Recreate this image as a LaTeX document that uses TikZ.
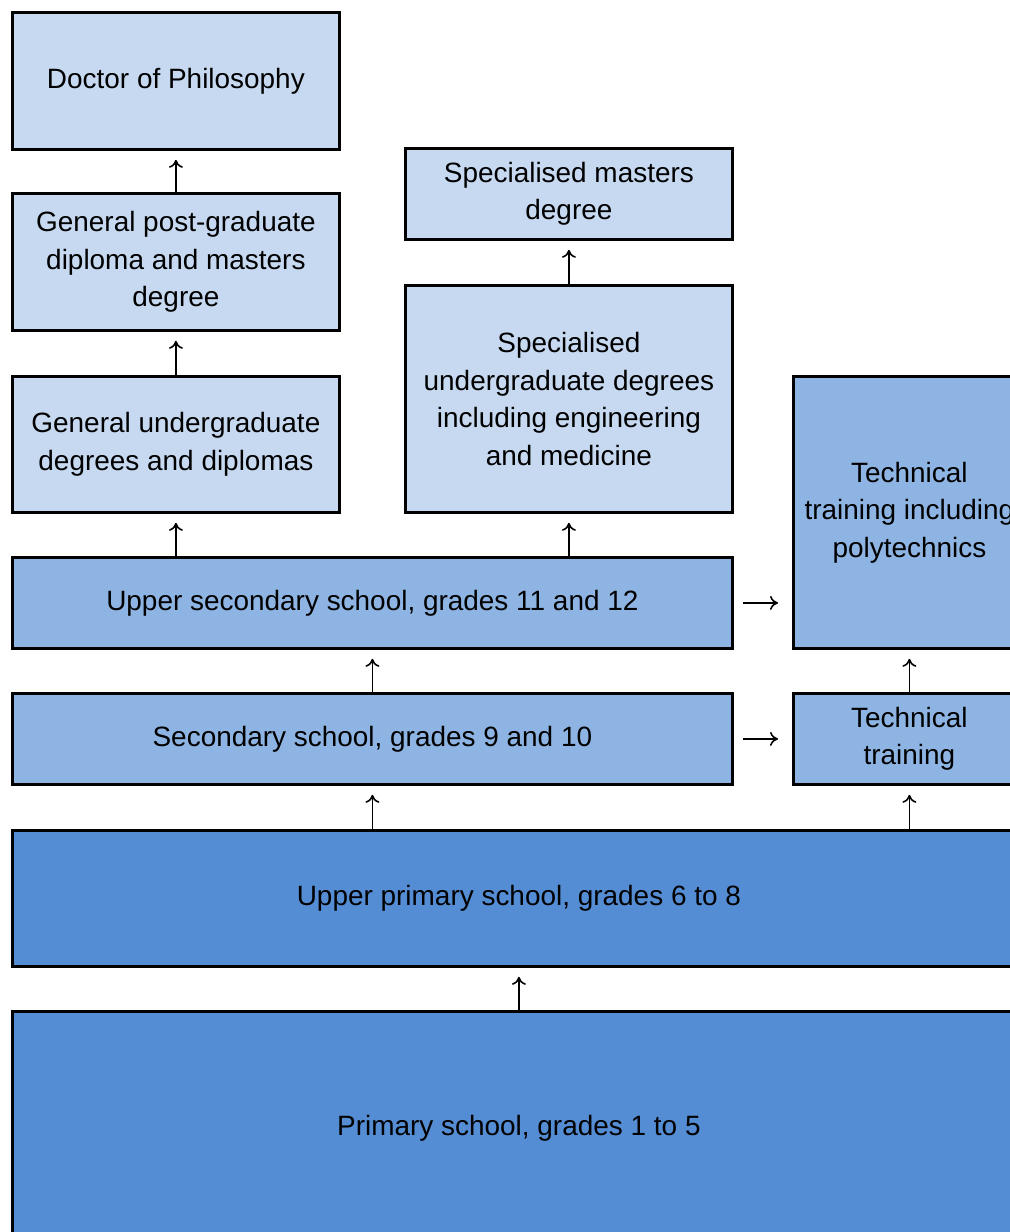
\documentclass[tikz,border=0pt]{standalone}
\usepackage{fontspec}
\setmainfont{Liberation Sans}
\usepackage{xcolor}
\usetikzlibrary{arrows.meta}
\definecolor{palebox}{HTML}{C6D9F1}
\definecolor{midbox}{HTML}{8EB4E3}
\definecolor{deepbox}{HTML}{548DD4}

\begin{document}
\begin{tikzpicture}[
  box/.style={draw, line width=1.6pt, fill=#1, inner sep=0pt, align=center, anchor=north west,
    font=\fontsize{15.9}{21.3}\selectfont},
  arr/.style={-{To[length=1.6mm, width=2.8mm]}, line width=0.9pt}
]
\clip (0,0) rectangle (20.2,-24.64);

% General path
\node[box=palebox, minimum width=6.54cm, minimum height=2.74cm] (phd) at (0.22,-0.22) {Doctor of Philosophy};
\node[box=palebox, minimum width=6.54cm, minimum height=2.74cm] (gen_pg) at (0.22,-3.84) {General post-graduate\\diploma and masters\\degree};
\node[box=palebox, minimum width=6.54cm, minimum height=2.72cm] (gen_ug) at (0.22,-7.50) {General undergraduate\\degrees and diplomas};

% Specialised path
\node[box=palebox, minimum width=6.54cm, minimum height=1.82cm] (spec_ms) at (8.08,-2.94) {Specialised masters\\degree};
\node[box=palebox, minimum width=6.54cm, minimum height=4.54cm] (spec_ug) at (8.08,-5.68) {Specialised\\undergraduate degrees\\including engineering\\and medicine};

% Schools
\node[box=midbox, minimum width=14.40cm, minimum height=1.82cm] (upper_sec) at (0.22,-11.12) {Upper secondary school, grades 11 and 12};
\node[box=midbox, minimum width=14.40cm, minimum height=1.82cm] (sec) at (0.22,-13.84) {Secondary school, grades 9 and 10};
\node[box=deepbox, minimum width=20.26cm, minimum height=2.72cm] (upper_prim) at (0.22,-16.58) {Upper primary school, grades 6 to 8};
\node[box=deepbox, minimum width=20.26cm, minimum height=4.68cm] (prim) at (0.22,-20.20) {Primary school, grades 1 to 5};

% Technical path
\node[box=midbox, minimum width=4.64cm, minimum height=5.44cm] (tech_poly) at (15.84,-7.50) {Technical\\training including\\polytechnics};
\node[box=midbox, minimum width=4.64cm, minimum height=1.82cm] (tech) at (15.84,-13.84) {Technical\\training};

% Upward arrows
\draw[arr, shorten >=0.18cm] (gen_pg.north) -- (phd.south);
\draw[arr, shorten >=0.18cm] (gen_ug.north) -- (gen_pg.south);
\draw[arr, shorten >=0.18cm] (gen_ug.south |- upper_sec.north) -- (gen_ug.south);
\draw[arr, shorten >=0.18cm] (spec_ug.north) -- (spec_ms.south);
\draw[arr, shorten >=0.18cm] (spec_ug.south |- upper_sec.north) -- (spec_ug.south);
\draw[arr, shorten >=0.18cm] (sec.north) -- (upper_sec.south);
\draw[arr, shorten >=0.18cm] (sec.south |- upper_prim.north) -- (sec.south);
\draw[arr, shorten >=0.18cm] (tech.south |- upper_prim.north) -- (tech.south);
\draw[arr, shorten >=0.18cm] (tech.north) -- (tech_poly.south);
\draw[arr, shorten >=0.18cm] (prim.north -| upper_prim.south) -- (upper_prim.south);

% Sideways arrows
\draw[arr, shorten <=0.18cm, shorten >=0.28cm] (upper_sec.east) -- (tech_poly.west |- upper_sec.east);
\draw[arr, shorten <=0.18cm, shorten >=0.28cm] (sec.east) -- (tech.west);

\end{tikzpicture}
\end{document}
